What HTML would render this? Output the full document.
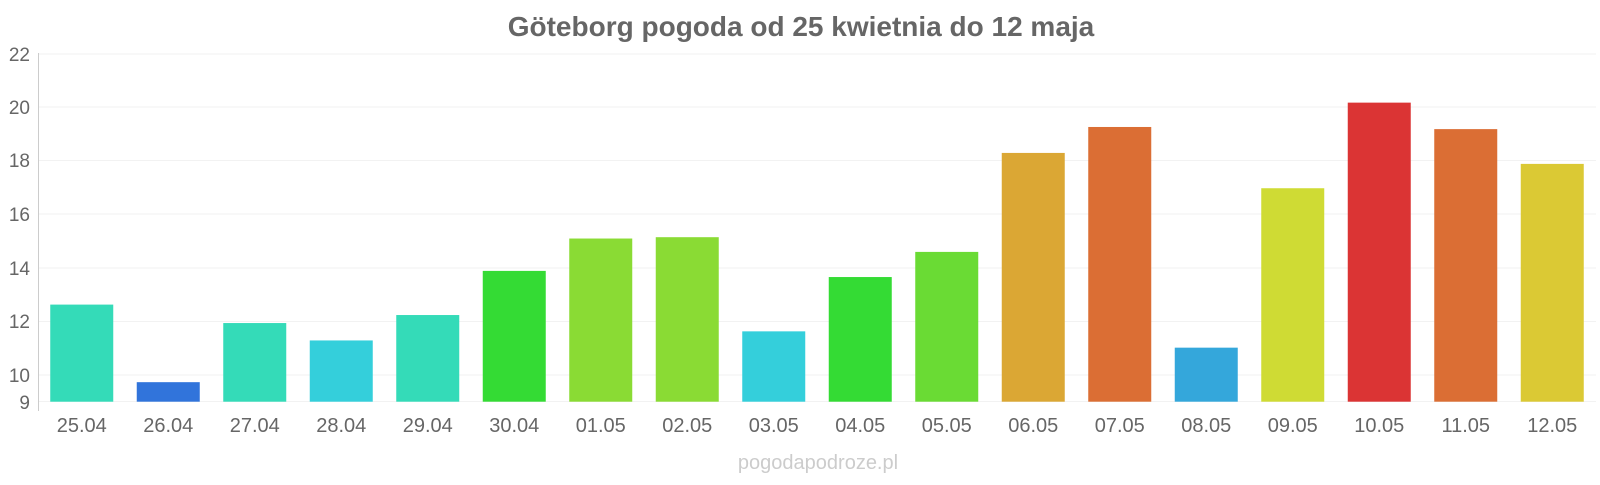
<!DOCTYPE html><html><head><meta charset="utf-8"><style>html,body{margin:0;padding:0;background:#fff}</style></head><body>
<svg width="1600" height="480" xmlns="http://www.w3.org/2000/svg" font-family="Liberation Sans, sans-serif">
<text x="801" y="36" text-anchor="middle" font-size="28" font-weight="bold" fill="#666">Göteborg pogoda od 25 kwietnia do 12 maja</text>
<g stroke="#f2f2f2" stroke-width="1">
<line x1="38" x2="1596" y1="54" y2="54"/><line x1="38" x2="1596" y1="107" y2="107"/><line x1="38" x2="1596" y1="160.5" y2="160.5"/><line x1="38" x2="1596" y1="214" y2="214"/><line x1="38" x2="1596" y1="268" y2="268"/><line x1="38" x2="1596" y1="321.5" y2="321.5"/><line x1="38" x2="1596" y1="375" y2="375"/><line x1="38" x2="1596" y1="401.5" y2="401.5"/>
</g>
<line x1="38.5" x2="38.5" y1="53" y2="411" stroke="#ccc"/>
<g font-size="19" fill="#666" text-anchor="end">
<text x="30" y="61">22</text><text x="30" y="114">20</text><text x="30" y="167">18</text><text x="30" y="221">16</text><text x="30" y="275">14</text><text x="30" y="328">12</text><text x="30" y="382">10</text><text x="30" y="409">9</text>
</g>
<g id="bars"></g>
<g id="labels" font-size="20" fill="#666" text-anchor="middle"></g>
<text x="818" y="469" text-anchor="middle" font-size="20" fill="#ccc">pogodapodroze.pl</text>
<script>
var d=[["25.04",12.63,"#34dbb8"],["26.04",9.73,"#3174db"],["27.04",11.94,"#34dbb8"],["28.04",11.29,"#34cfdb"],["29.04",12.24,"#34dbb8"],["30.04",13.89,"#34db34"],["01.05",15.1,"#8adb34"],["02.05",15.15,"#8adb34"],["03.05",11.63,"#34cfdb"],["04.05",13.66,"#34db34"],["05.05",14.6,"#6adb34"],["06.05",18.3,"#dba734"],["07.05",19.27,"#db6e34"],["08.05",11.02,"#34a7db"],["09.05",16.98,"#cfdb34"],["10.05",20.18,"#db3434"],["11.05",19.19,"#db6e34"],["12.05",17.89,"#dbc934"]];
var ns="http://www.w3.org/2000/svg",b=document.getElementById("bars"),l=document.getElementById("labels");
d.forEach(function(e,i){var cx=38.5+86.5*(i+0.5);var top=401.7-(e[1]-9)*26.75;
var r=document.createElementNS(ns,"rect");r.setAttribute("x",cx-31.5);r.setAttribute("y",top);r.setAttribute("width",63);r.setAttribute("height",401.7-top);r.setAttribute("fill",e[2]);b.appendChild(r);
var t=document.createElementNS(ns,"text");t.setAttribute("x",cx);t.setAttribute("y",432);t.textContent=e[0];l.appendChild(t);});
</script>
</svg>
</body></html>
